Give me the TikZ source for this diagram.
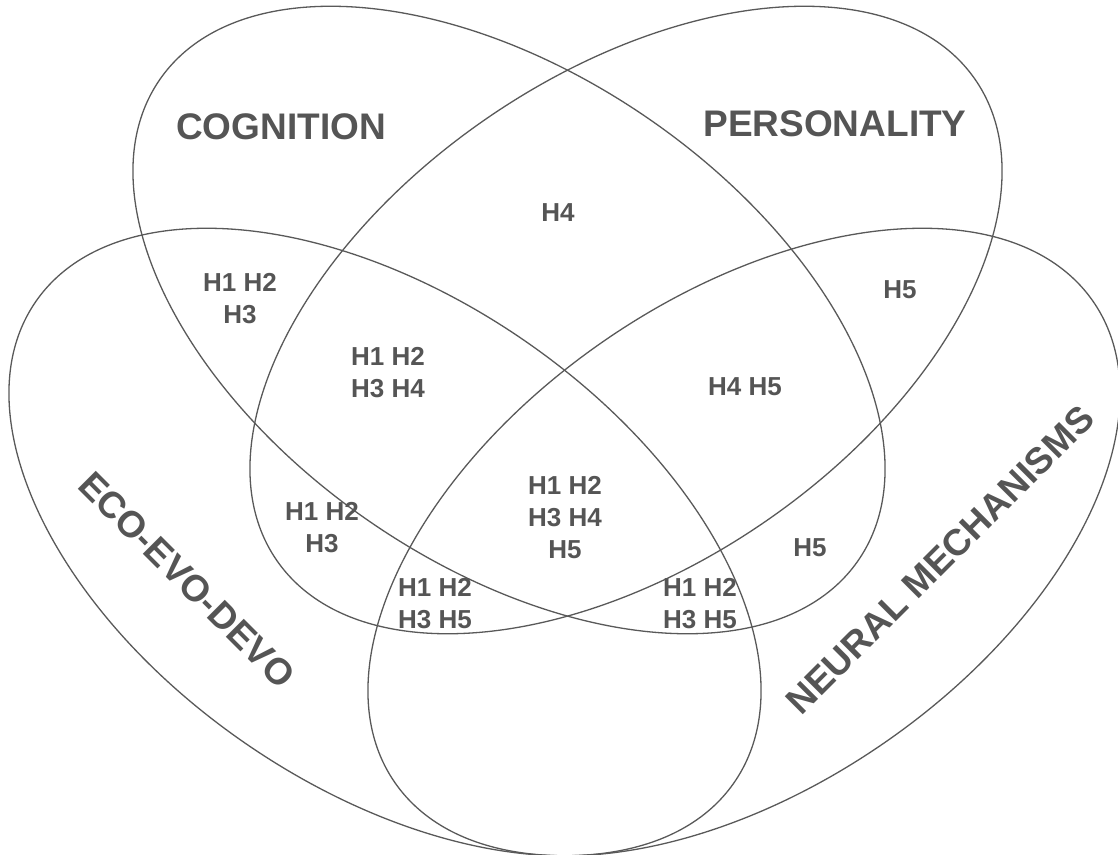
\documentclass[tikz,border=0pt]{standalone}
\usepackage{fontspec}
\setmainfont{Liberation Sans}
\definecolor{ink}{HTML}{555555}
\definecolor{rim}{HTML}{595959}
\begin{document}
\begin{tikzpicture}[x=1pt,y=-1pt,
  setline/.style={draw=rim,line width=1.3pt},
  setname/.style={text=ink,font=\fontsize{37}{40}\selectfont\bfseries,inner sep=0pt},
  hyp/.style={text=ink,font=\fontsize{26}{32}\selectfont\bfseries,align=center,inner sep=0pt}]
\useasboundingbox (0,0) rectangle (1118,854);
% four congruent ellipses
\draw[setline,rotate around={-34.5:(509,320)}] (509,320) ellipse [x radius=424,y radius=245];
\draw[setline,rotate around={34.5:(626,320)}] (626,320) ellipse [x radius=424,y radius=245];
\draw[setline,rotate around={-34.5:(385,542)}] (385,542) ellipse [x radius=424,y radius=245];
\draw[setline,rotate around={34.5:(744,542)}] (744,542) ellipse [x radius=424,y radius=245];
% set names
\node[setname] (cog) at (281,127) {COGNITION};
\node[setname] (pers) at (835,124) {PERSONALITY};
\node[setname,rotate=-45] (eco) at (187,580) {ECO-EVO-DEVO};
\node[setname,rotate=45] (neur) at (940,560) {NEURAL MECHANISMS};
% region contents
\node[hyp] (r1) at (558,213) {H4};
\node[hyp] (r2) at (240,299) {H1 H2\\H3};
\node[hyp] (r3) at (900,290) {H5};
\node[hyp] (r4) at (388,373) {H1 H2\\H3 H4};
\node[hyp] (r5) at (745,387) {H4 H5};
\node[hyp] (r6) at (565,518) {H1 H2\\H3 H4\\H5};
\node[hyp] (r7) at (322,528) {H1 H2\\H3};
\node[hyp] (r8) at (435,604) {H1 H2\\H3 H5};
\node[hyp] (r9) at (810,548) {H5};
\node[hyp] (r10) at (700,604) {H1 H2\\H3 H5};
\end{tikzpicture}
\end{document}
